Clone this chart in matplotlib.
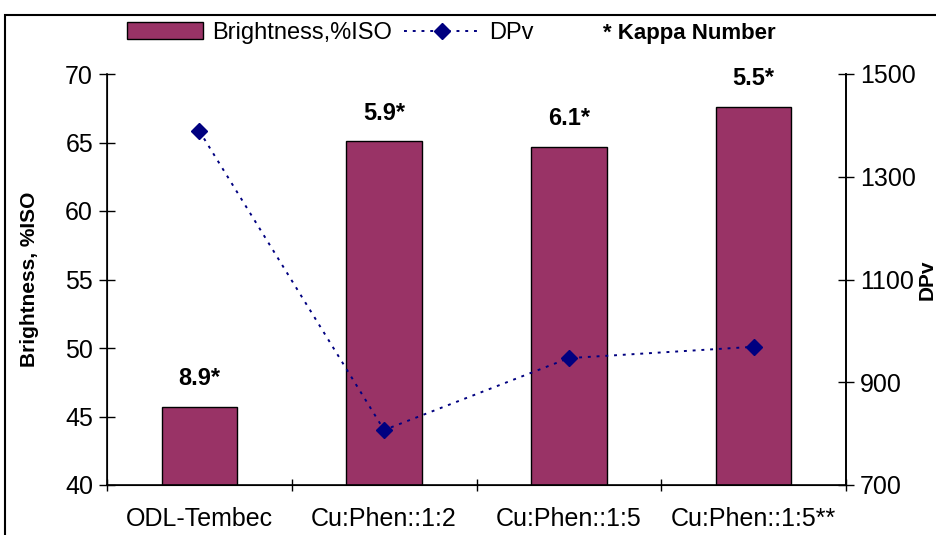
import numpy as np
import matplotlib.pyplot as plt
from matplotlib.patches import Rectangle

plt.rcParams['font.family'] = ['Liberation Sans', 'DejaVu Sans']

categories = ["ODL-Tembec", "Cu:Phen::1:2", "Cu:Phen::1:5", "Cu:Phen::1:5**"]
brightness = [45.7, 65.1, 64.7, 67.6]
dpv = [1389, 807, 947, 969]
kappa = ["8.9*", "5.9*", "6.1*", "5.5*"]

fig = plt.figure(figsize=(9.37, 5.35), dpi=100)
ax = fig.add_axes([107/937, 50/535, 739/937, 411/535])
x = np.arange(len(categories))

ax.bar(x, brightness, width=0.41, color="#993366", edgecolor="black",
       linewidth=1, label="Brightness,%ISO", zorder=2)
for xi, b, k in zip(x, brightness, kappa):
    ax.text(xi, b + 2.05, k, ha="center", va="center", fontsize=17,
            fontweight="bold")

ax.set_xlim(-0.5, 3.5)
ax.set_ylim(40, 70)
ax.set_yticks(np.arange(40, 71, 5))
ax.set_xticks(np.arange(-0.5, 3.6, 1))
ax.set_xticklabels([])
ax.set_xticks(x, minor=True)
ax.set_xticklabels(categories, minor=True)
ax.tick_params(axis="x", which="minor", length=0, pad=16, labelsize=18)
ax.tick_params(axis="x", which="major", direction="inout", length=9, width=1)
ax.tick_params(axis="y", direction="inout", length=12, width=1, labelsize=18, pad=4)
ax.set_ylabel("Brightness, %ISO", fontsize=15, fontweight="bold", va="center")
ax.yaxis.set_label_coords(-77/739, 0.5)
ax.spines["top"].set_visible(False)
for s in ["left", "bottom", "right"]:
    ax.spines[s].set_linewidth(1.2)

ax2 = ax.twinx()
ax2.plot(x, dpv, linestyle=(0, (1.5, 3)), color="#000080", linewidth=1.4,
         marker="D", markersize=8, label="DPv")
ax2.set_ylim(700, 1500)
ax2.set_yticks(np.arange(700, 1501, 200))
ax2.tick_params(axis="y", direction="inout", length=12, width=1, labelsize=18, pad=4)
ax2.set_ylabel("DPv", fontsize=15, fontweight="bold", va="center")
ax2.yaxis.set_label_coords(820/739, 0.5)
ax2.spines["top"].set_visible(False)
ax2.spines["right"].set_linewidth(1.2)

h1, l1 = ax.get_legend_handles_labels()
h2, l2 = ax2.get_legend_handles_labels()
fig.legend(h1 + h2, l1 + l2, loc="center left", bbox_to_anchor=(118/937, 1 - 33/535),
           ncol=2, frameon=False, fontsize=17, handlelength=3.2, handleheight=0.75,
           columnspacing=0.5, handletextpad=0.4, borderaxespad=0)
fig.text(603/937, 1 - 33/535, "* Kappa Number", fontsize=16, fontweight="bold",
         ha="left", va="center")

# outer chart border
fig.patches.append(Rectangle((5/937, -0.1), 1.0, 1 - 15/535 + 0.1,
                             transform=fig.transFigure, fill=False,
                             edgecolor="black", linewidth=1.5))

fig.savefig("out.png", dpi=100)
